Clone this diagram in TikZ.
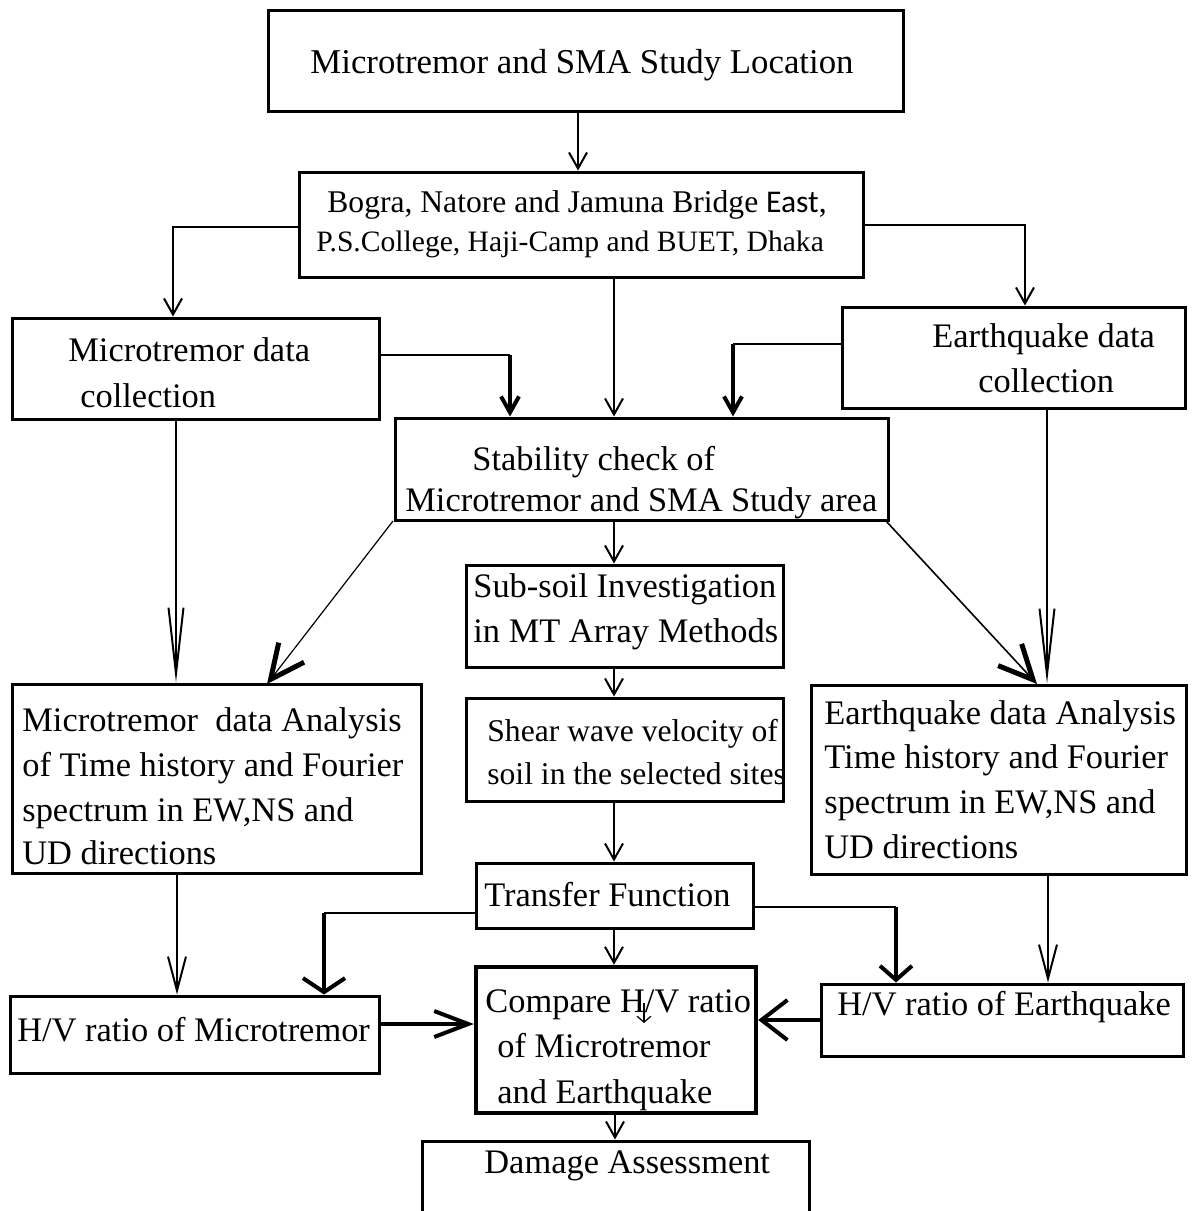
\documentclass[tikz,border=0pt]{standalone}
\usepackage{fontspec}
\setmainfont{Liberation Serif}
\newfontfamily\carlito{Carlito}
\usetikzlibrary{arrows.meta,fit,calc}
\begin{document}
\begin{tikzpicture}[x=0.5pt,y=-0.5pt,
  box/.style={draw, line width=1.5pt, inner sep=0pt},
  txt/.style={inner sep=0pt, anchor=base west, font=\fontsize{17.2}{20}\selectfont},
  txtt/.style={inner sep=0pt, anchor=base west, font=\fontsize{17.4}{20}\selectfont},
  txtb/.style={inner sep=0pt, anchor=base west, font=\fontsize{14.8}{18}\selectfont},
  txtbb/.style={inner sep=0pt, anchor=base west, font=\fontsize{15.8}{18}\selectfont},
  txts/.style={inner sep=0pt, anchor=base west, font=\fontsize{15.8}{18}\selectfont},
  conn/.style={line width=1pt},
  thick conn/.style={line width=2pt},
  tipS/.style={-{Straight Barb[length=8pt,width=9pt]}},
  tipLong/.style={-{Straight Barb[length=33pt,width=7.5pt]}},
  tipMid/.style={-{Straight Barb[length=17pt,width=9pt]}},
  tipDiag/.style={-{Straight Barb[length=17pt,width=16pt,line width=2.5pt]}},
  tipWideA/.style={-{Straight Barb[length=7pt,width=21pt]}},
  tipWideB/.style={-{Straight Barb[length=7pt,width=16pt]}},
  tipHL/.style={-{Straight Barb[length=17pt,width=13pt]}},
  tipHR/.style={-{Straight Barb[length=13pt,width=20pt]}},
  tipTiny/.style={-{Straight Barb[length=3pt,width=7pt]}}
]
\useasboundingbox (0,0) rectangle (1192,1211);

% boxes
\node[box, fit={(268,10) (903,111)}] (top) {};
\node[box, fit={(299,172) (863,277)}] (bogra) {};
\node[box, fit={(12,318) (379,419)}] (mcoll) {};
\node[box, fit={(842,307) (1185,408)}] (ecoll) {};
\node[box, fit={(395,418) (888,520)}] (stab) {};
\node[box, fit={(466,565) (783,667)}] (subsoil) {};
\node[box, fit={(466,698) (783,801)}] (shear) {};
\node[box, fit={(12,684) (421,873)}] (mana) {};
\node[box, fit={(811,685) (1186,874)}] (eana) {};
\node[box, fit={(476,863) (753,928)}] (transfer) {};
\node[box, fit={(10,996) (379,1073)}] (hvm) {};
\node[box, line width=2.2pt, fit={(476,967) (756,1113)}] (compare) {};
\node[box, fit={(821,984) (1183,1056)}] (hve) {};
\node[box, fit={(422,1141) (809,1240)}] (damage) {};

% texts
\node[txtt] (t-top) at (310,73) {Microtremor and SMA Study Location};
\node[txtbb] (t-b1) at (327,212) {Bogra, Natore and Jamuna Bridge {\carlito East},};
\node[txtb] (t-b2) at (316,251) {P.S.College, Haji-Camp and BUET, Dhaka};
\node[txt] (t-mc1) at (68,361) {Microtremor data};
\node[txt] (t-mc2) at (80,407) {collection};
\node[txt] (t-ec1) at (932,347) {Earthquake data};
\node[txt] (t-ec2) at (978,392) {collection};
\node[txt] (t-s1) at (472,470) {Stability check of};
\node[txt] (t-s2) at (405,511) {Microtremor and SMA Study area};
\node[txt] (t-ss1) at (473,597) {Sub-soil Investigation};
\node[txt] (t-ss2) at (473,642) {in MT Array Methods};
\node[txts] (t-sh1) at (487,741) {Shear wave velocity of};
\node[txts] (t-sh2) at (487,784) {soil in the selected sites};
\node[txt] (t-ma1) at (22,731) {Microtremor\ \ data Analysis};
\node[txt] (t-ma2) at (22,776) {of Time history and Fourier};
\node[txt] (t-ma3) at (22,821) {spectrum in EW,NS and};
\node[txt] (t-ma4) at (22,864) {UD directions};
\node[txt] (t-ea1) at (824,724) {Earthquake data Analysis};
\node[txt] (t-ea2) at (824,768) {Time history and Fourier};
\node[txt] (t-ea3) at (824,813) {spectrum in EW,NS and};
\node[txt] (t-ea4) at (824,858) {UD directions};
\node[txt] (t-tf) at (484,906) {Transfer Function};
\node[txt] (t-hvm) at (17,1041) {H/V ratio of Microtremor};
\node[txt] (t-c1) at (485,1012) {Compare H/V ratio};
\node[txt] (t-c2) at (497,1057) {of Microtremor};
\node[txt] (t-c3) at (497,1103) {and Earthquake};
\node[txt] (t-hve) at (837,1015) {H/V ratio of Earthquake};
\node[txt] (t-dm) at (484,1173) {Damage Assessment};

% guide coordinates
\coordinate (x1) at (578,0);
\coordinate (p2) at (173,227);
\coordinate (p3) at (1025,225);
\coordinate (x4) at (614,0);
\coordinate (p5) at (510,355);
\coordinate (p6) at (733,344);
\coordinate (x7) at (176,0);
\coordinate (x11) at (1047,0);
\coordinate (x14) at (177,0);
\coordinate (x15) at (1048,0);
\coordinate (p16) at (324,913);
\coordinate (p17) at (896,907);
\coordinate (y19) at (0,1024);
\coordinate (y20) at (0,1020);
\coordinate (x21) at (615,0);
\coordinate (sa) at (393,521);
\coordinate (sb) at (886,521);
\coordinate (ma) at (267,684);
\coordinate (ea) at (1037,684);
\coordinate (st1) at (644,1003);
\coordinate (st2) at (644,1023);

% connectors
\draw[conn,tipS] (top.south -| x1) -- (bogra.north -| x1);
\draw[conn,tipS] (bogra.west |- p2) -| (mcoll.north -| p2);
\draw[conn,tipS] (bogra.east |- p3) -| (ecoll.north -| p3);
\draw[conn,tipS] (bogra.south -| x4) -- (stab.north -| x4);
\draw[line width=1.4pt] (mcoll.east |- p5) -- (p5);
\draw[thick conn,tipS] (p5) -- (stab.north -| p5);
\draw[line width=1.4pt] (ecoll.west |- p6) -- (p6);
\draw[thick conn,tipS] (p6) -- (stab.north -| p6);
\draw[conn,tipLong] (mcoll.south -| x7) -- (mana.north -| x7);
\draw[line width=0.6pt,tipDiag] (sa) -- (ma);
\draw[conn,tipS] (stab.south -| x4) -- (subsoil.north -| x4);
\draw[line width=0.8pt,tipDiag] (sb) -- (ea);
\draw[conn,tipLong] (ecoll.south -| x11) -- (eana.north -| x11);
\draw[conn,tipS] (subsoil.south -| x4) -- (shear.north -| x4);
\draw[conn,tipS] (shear.south -| x4) -- (transfer.north -| x4);
\draw[conn,tipMid] (mana.south -| x14) -- (hvm.north -| x14);
\draw[conn,tipMid] (eana.south -| x15) -- (hve.north -| x15);
\draw[conn] (transfer.west |- p16) -- (p16);
\draw[thick conn,tipWideA] (p16) -- (hvm.north -| p16);
\draw[conn] (transfer.east |- p17) -- (p17);
\draw[thick conn,tipWideB] (p17) -- (hve.north -| p17);
\draw[conn,tipS] (transfer.south -| x4) -- (compare.north -| x4);
\draw[thick conn,tipHL] (hvm.east |- y19) -- (compare.west |- y19);
\draw[thick conn,tipHR] (hve.west |- y20) -- (compare.east |- y20);
\draw[conn,tipS] (compare.south -| x21) -- (damage.north -| x21);
\draw[line width=0.6pt,tipTiny] (st1) -- (st2);
\end{tikzpicture}
\end{document}
